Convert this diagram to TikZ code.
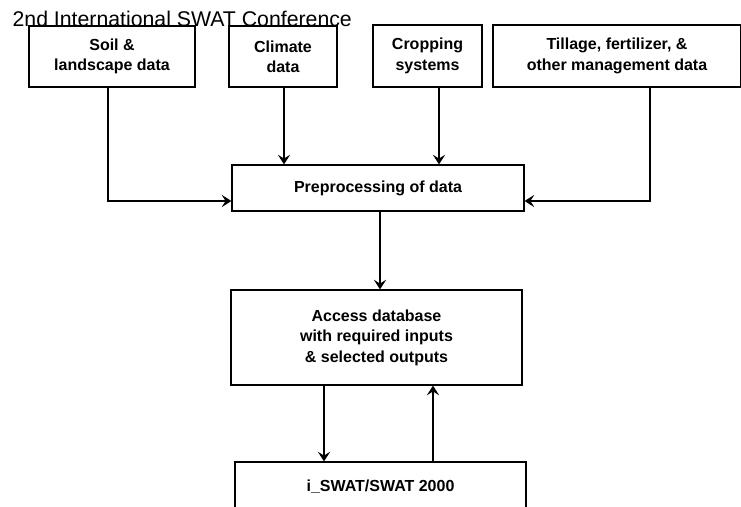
\documentclass[tikz,border=0pt]{standalone}
\usepackage{fontspec}
\setmainfont{Liberation Sans}
\usetikzlibrary{arrows.meta, calc}
\tikzset{
    blk/.style={draw, line width=0.7pt, align=center, inner sep=2pt,
        font=\bfseries\fontsize{9.1}{11.6}\selectfont},
    bd/.style={>={Stealth[length=5.5pt, width=7pt, inset=2.2pt]}, line width=0.7pt}
}

\begin{document}
\begin{tikzpicture}[bd]
        \clip (0,0) rectangle (14.82,-10.12);
        \node[anchor=base west, inner sep=0pt, font=\fontsize{12.1}{14}\selectfont] (title) at (0.24,-0.534) {2nd International SWAT Conference};

        \node[blk, minimum width=3.32cm, minimum height=1.22cm] (soil) at (2.24,-1.13) {Soil \&\\landscape data};
        \node[blk, minimum width=2.16cm, minimum height=1.22cm] (clim) at (5.66,-1.13) {Climate\\data};
        \node[blk, minimum width=2.18cm, minimum height=1.24cm] (crop) at (8.55,-1.12) {Cropping\\systems};
        \node[blk, minimum width=4.96cm, minimum height=1.24cm] (till) at (12.34,-1.12) {Tillage, fertilizer, \&\\other management data};
        \node[blk, minimum width=5.84cm, minimum height=0.92cm] (pre) at (7.56,-3.76) {Preprocessing of data};
        \node[blk, minimum width=5.82cm, minimum height=1.9cm] (acc) at (7.53,-6.75) {Access database\\with required inputs\\\& selected outputs};
        \node[blk, minimum width=5.82cm, minimum height=1.0cm] (swat) at (7.61,-9.74) {i\_SWAT/SWAT 2000};

        \draw[->] ([xshift=-0.08cm]soil.south) |- ([yshift=-0.26cm]pre.west);
        \draw[->] ([xshift=0.02cm]clim.south) -- ([xshift=0.02cm]clim.south |- pre.north);
        \draw[->] ([xshift=0.23cm]crop.south) -- ([xshift=0.23cm]crop.south |- pre.north);
        \draw[->] ([xshift=0.66cm]till.south) |- ([yshift=-0.26cm]pre.east);
        \draw[->] ([xshift=0.04cm]pre.south) -- ([xshift=0.04cm]pre.south |- acc.north);
        \draw[->] ([xshift=-1.05cm]acc.south) -- ([xshift=-1.05cm]acc.south |- swat.north);
        \draw[->] ([xshift=1.13cm]acc.south |- swat.north) -- ([xshift=1.13cm]acc.south);
    \end{tikzpicture}
\end{document}
